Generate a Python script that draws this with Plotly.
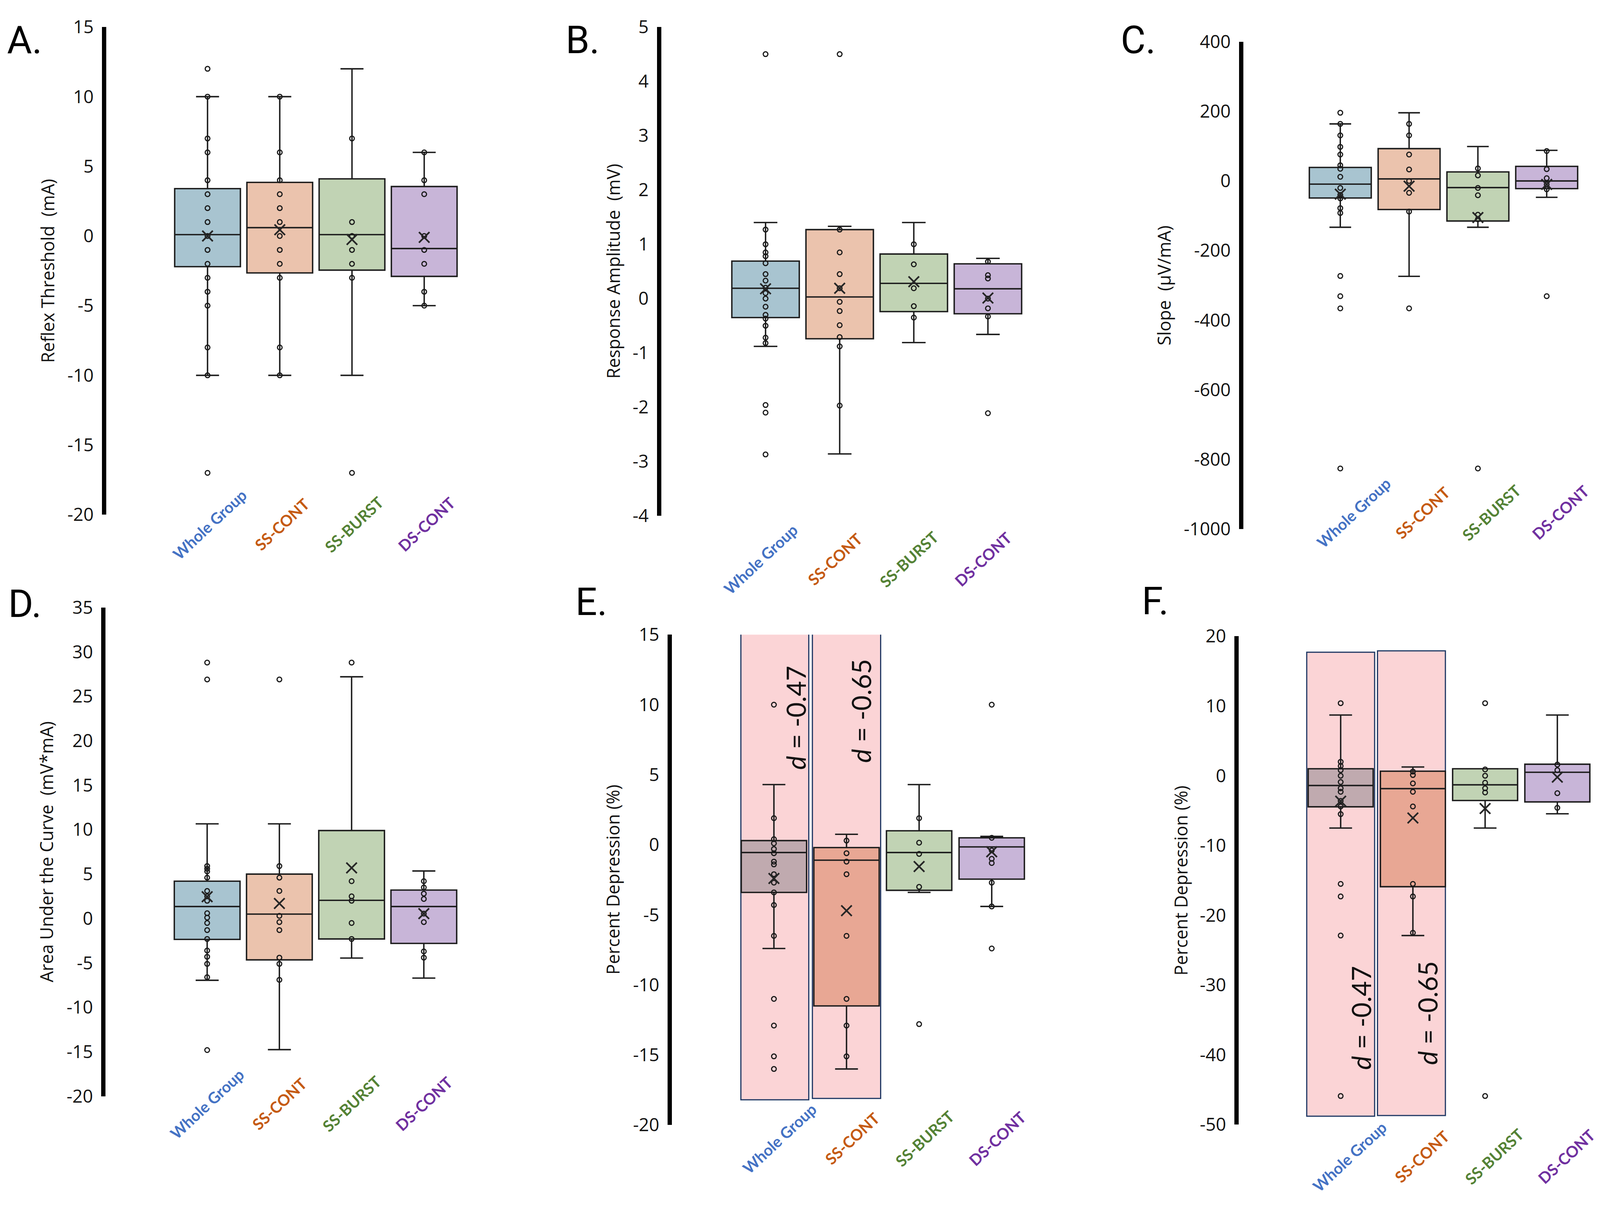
import plotly.graph_objects as go

PAGE_W, PAGE_H = 4207, 3084
BODY_MARGIN = 8
W, H = PAGE_W - 2 * BODY_MARGIN, PAGE_H - 2 * BODY_MARGIN

# mapping from reference-image pixels to page pixels of the photographed page
SX, OX = 0.9731, 0.0
SY, OY = 1.0142, -33.3

CATEGORIES = ["Whole Group", "SS-CONT", "SS-BURST", "DS-CONT"]
CATEGORY_COLORS = ["#4472C4", "#C55A11", "#548235", "#7030A0"]
BOX_FILLS = ["#A8C4D0", "#EBC3AD", "#C1D3B4", "#C8B5D8"]
BOX_FILLS_HL = ["#C0AAAF", "#E8A794", "#C1D3B4", "#C8B5D8"]

# ---------------- Panel A : Reflex Threshold ----------------
A_TITLE = "Reflex Threshold  (mA)"
A_TICKS = [15, 10, 5, 0, -5, -10, -15, -20]
A_WG = [12, 10, 7, 6, 4, 3, 2, 1, 0, -1, -2, -3, -4, -5, -8, -10, -17]
A_SSC = [10, 6, 4, 3, 2, 1, 0, -1, -2, -3, -8, -10]
A_SSB = [7, 1, 0, -1, -2, -3, -17]
A_DSC = [6, 4, 3, 0, -1, -2, -4, -5]
A_Q1 = [-2.2, -2.65, -2.45, -2.9]
A_MED = [0.1, 0.6, 0.1, -0.9]
A_Q3 = [3.4, 3.85, 4.1, 3.55]
A_LO = [-10, -10, -10, -5]
A_HI = [10, 10, 12, 6]
A_MEAN = [0.0, 0.45, -0.25, -0.1]

# ---------------- Panel B : Response Amplitude ----------------
B_TITLE = "Response Amplitude  (mV)"
B_TICKS = [5, 4, 3, 2, 1, 0, -1, -2, -3, -4]
B_WG = [4.5, 1.27, 1.0, 0.85, 0.78, 0.65, 0.45, 0.33, 0.2, 0.1, 0.0, -0.15,
        -0.3, -0.37, -0.5, -0.72, -0.82, -1.96, -2.1, -2.87]
B_SSC = [4.5, 1.27, 0.85, 0.45, 0.19, -0.06, -0.23, -0.49, -0.71, -0.88, -1.97]
B_SSB = [1.0, 0.63, 0.19, -0.14, -0.35]
B_DSC = [0.68, 0.43, 0.37, 0.0, -0.18, -0.33, -2.11]
B_Q1 = [-0.35, -0.74, -0.24, -0.28]
B_MED = [0.19, 0.03, 0.28, 0.18]
B_Q3 = [0.69, 1.27, 0.82, 0.64]
B_LO = [-0.88, -2.86, -0.81, -0.66]
B_HI = [1.4, 1.33, 1.4, 0.74]
B_MEAN = [0.18, 0.19, 0.31, 0.01]

# ---------------- Panel C : Slope ----------------
C_TITLE = "Slope  (\u00b5V/mA)"
C_TICKS = [400, 200, 0, -200, -400, -600, -800, -1000]
C_WG = [196, 164, 131, 98, 76, 45, 35, 12, -20, -40, -50, -78, -92, -273, -331, -366, -826]
C_SSC = [164, 131, 76, 33, 0, -34, -88, -366]
C_SSB = [36, 16, -20, -41, -97, -110, -826]
C_DSC = [86, 34, 8, -10, -24, -331]
C_Q1 = [-49, -82, -115, -22]
C_MED = [-9, 6, -19, 0]
C_Q3 = [39, 93, 26, 42]
C_LO = [-133, -274, -133, -47]
C_HI = [164, 196, 99, 88]
C_MEAN = [-38, -15, -105, -10]

# ---------------- Panel D : Area Under the Curve ----------------
D_TITLE = "Area Under the Curve  (mV*mA)"
D_TICKS = [35, 30, 25, 20, 15, 10, 5, 0, -5, -10, -15, -20]
D_WG = [28.8, 26.9, 5.9, 5.6, 5.3, 4.6, 3.1, 2.5, 2.0, 0.6, 0.1, -0.5, -1.3,
        -2.3, -3.6, -4.3, -5.1, -6.6, -14.8]
D_SSC = [26.9, 5.9, 4.6, 3.1, 0.3, -0.4, -1.3, -4.4, -5.1, -6.9]
D_SSB = [28.8, 4.2, 2.5, 2.0, -0.5, -2.3]
D_DSC = [4.2, 3.5, 2.8, 2.2, 0.55, -0.4, -3.7, -4.4]
D_Q1 = [-2.35, -4.65, -2.3, -2.8]
D_MED = [1.35, 0.5, 2.05, 1.35]
D_Q3 = [4.2, 5.0, 9.9, 3.2]
D_LO = [-6.95, -14.75, -4.45, -6.7]
D_HI = [10.65, 10.65, 27.2, 5.35]
D_MEAN = [2.45, 1.7, 5.7, 0.55]

# ---------------- Panel E : Percent Depression ----------------
E_TITLE = "Percent Depression (%)"
E_TICKS = [15, 10, 5, 0, -5, -10, -15, -20]
E_WG = [10.0, 1.9, 0.4, 0.1, -0.3, -0.6, -1.2, -1.4, -2.1, -2.7, -3.4, -4.3,
        -6.5, -11.0, -12.9, -15.1, -16.0]
E_SSC = [0.3, -0.6, -1.2, -2.1, -6.5, -11.0, -12.9, -15.1]
E_SSB = [1.9, 0.15, -0.65, -3.0, -12.8]
E_DSC = [10.0, 0.5, -0.4, -1.0, -1.3, -2.7, -4.4, -7.4]
E_Q1 = [-3.4, -11.5, -3.25, -2.45]
E_MED = [-0.55, -1.1, -0.55, -0.15]
E_Q3 = [0.3, -0.2, 1.0, 0.5]
E_LO = [-7.4, -16.0, -3.4, -4.4]
E_HI = [4.3, 0.75, 4.3, 0.6]
E_MEAN = [-2.4, -4.7, -1.55, -0.5]
E_EFFECT = [-0.47, -0.65]

# ---------------- Panel F : Percent Depression ----------------
F_TITLE = "Percent Depression (%)"
F_TICKS = [20, 10, 0, -10, -20, -30, -40, -50]
F_WG = [10.4, 2.0, 1.4, 0.8, 0.0, -0.9, -1.8, -2.3, -3.6, -4.4, -5.5,
        -15.5, -17.3, -22.9, -45.9]
F_SSC = [0.6, 0.1, -1.1, -2.3, -4.4, -15.5, -17.3, -22.5]
F_SSB = [10.4, 0.9, 0.0, -1.0, -1.8, -2.4, -45.9]
F_DSC = [1.6, 0.8, -2.5, -4.6]
F_Q1 = [-4.45, -15.9, -3.55, -3.75]
F_MED = [-1.4, -1.85, -1.3, 0.5]
F_Q3 = [1.0, 0.65, 1.0, 1.65]
F_LO = [-7.5, -22.9, -7.5, -5.45]
F_HI = [8.7, 1.25, 1.0, 8.7]
F_MEAN = [-3.65, -6.05, -4.7, -0.2]
F_EFFECT = [-0.47, -0.65]

# ---------------- geometry (reference-image pixels) ----------------
panels = [
    dict(letter="A.", title=A_TITLE, ticks=A_TICKS, points=[A_WG, A_SSC, A_SSB, A_DSC],
         q1=A_Q1, med=A_MED, q3=A_Q3, lo=A_LO, hi=A_HI, mean=A_MEAN, fills=BOX_FILLS,
         ax=274, c0=546, sp=190, ytop=69, ybot=1325, lab_y=1350, lab_dx=6,
         title_x=125, letter_xy=(16, None), bw=0.91),
    dict(letter="B.", title=B_TITLE, ticks=B_TICKS, points=[B_WG, B_SSC, B_SSB, B_DSC],
         q1=B_Q1, med=B_MED, q3=B_Q3, lo=B_LO, hi=B_HI, mean=B_MEAN, fills=BOX_FILLS,
         ax=1734, c0=2014, sp=195, ytop=69, ybot=1328, lab_y=1440, lab_dx=-12,
         title_x=1613, letter_xy=(1486, None), bw=0.91),
    dict(letter="C.", title=C_TITLE, ticks=C_TICKS, points=[C_WG, C_SSC, C_SSB, C_DSC],
         q1=C_Q1, med=C_MED, q3=C_Q3, lo=C_LO, hi=C_HI, mean=C_MEAN, fills=BOX_FILLS,
         ax=3265, c0=3526, sp=181, ytop=107, ybot=1362, lab_y=1320, lab_dx=36,
         title_x=3062, letter_xy=(2946, None), bw=0.9),
    dict(letter="D.", title=D_TITLE, ticks=D_TICKS, points=[D_WG, D_SSC, D_SSB, D_DSC],
         q1=D_Q1, med=D_MED, q3=D_Q3, lo=D_LO, hi=D_HI, mean=D_MEAN, fills=BOX_FILLS,
         ax=272, c0=545, sp=190, ytop=1564, ybot=2823, lab_y=2842, lab_dx=0,
         title_x=121, letter_xy=(20, 1555), bw=0.91),
    dict(letter="E.", title=E_TITLE, ticks=E_TICKS, points=[E_WG, E_SSC, E_SSB, E_DSC],
         q1=E_Q1, med=E_MED, q3=E_Q3, lo=E_LO, hi=E_HI, mean=E_MEAN, fills=BOX_FILLS_HL,
         ax=1762, c0=2036, sp=191, ytop=1634, ybot=2897, lab_y=2932, lab_dx=15,
         title_x=1612, letter_xy=(1512, 1550), bw=0.9,
         rects=[(-0.455, 0.48, -18.2, 15.1), (0.53, 1.47, -18.1, 15.15)],
         effects=E_EFFECT, eff_pos=[(0.30, 9.07), (1.20, 9.57)]),
    dict(letter="F.", title=F_TITLE, ticks=F_TICKS, points=[F_WG, F_SSC, F_SSB, F_DSC],
         q1=F_Q1, med=F_MED, q3=F_Q3, lo=F_LO, hi=F_HI, mean=F_MEAN, fills=BOX_FILLS_HL,
         ax=3253, c0=3527, sp=190, ytop=1638, ybot=2896, lab_y=2978, lab_dx=24,
         title_x=3106, letter_xy=(3002, 1548), bw=0.9,
         rects=[(-0.47, 0.47, -48.8, 17.7), (0.51, 1.45, -48.7, 17.9)],
         effects=F_EFFECT, eff_pos=[(0.28, -34.7), (1.20, -34.0)]),
]

TICK_FONT = dict(family="Open Sans", size=46, color="#111111")
TITLE_FONT = dict(family="Open Sans", size=45, color="#111111")
LETTER_FONT = dict(family="Roboto", size=98, color="black")
CAT_FONT_FAMILY = "Lato"
AXIS_LW = 11


def fxp(x):
    """reference x pixel -> figure pixel"""
    return SX * x + OX - BODY_MARGIN


def fyp(y):
    return SY * y + OY - BODY_MARGIN


def px(x):
    return fxp(x) / W


def py(y):
    return 1 - fyp(y) / H


fig = go.Figure()
annotations = []
shapes = []
layout = {}

for k, p in enumerate(panels, start=1):
    xn = "x" if k == 1 else f"x{k}"
    yn = "y" if k == 1 else f"y{k}"
    xkey = "xaxis" if k == 1 else f"xaxis{k}"
    ykey = "yaxis" if k == 1 else f"yaxis{k}"

    sp = p["sp"] * SX
    c0 = fxp(p["c0"])
    left = fxp(p["ax"]) + AXIS_LW / 2
    c3 = c0 + 3 * sp
    right = min(W - 2, c3 + 0.6 * sp)
    r0 = (left - c0) / sp
    r1 = 3 + (right - c3) / sp
    ticks = p["ticks"]
    ymin, ymax = min(ticks), max(ticks)

    layout[xkey] = dict(domain=[left / W, right / W], range=[r0, r1], anchor=yn,
                        showline=False, showgrid=False, zeroline=False,
                        showticklabels=False, ticks="", fixedrange=True)
    layout[ykey] = dict(domain=[py(p["ybot"]), py(p["ytop"])], range=[ymin, ymax],
                        anchor=xn, showline=True, linewidth=AXIS_LW, linecolor="black",
                        showgrid=False, zeroline=False, ticks="", tickmode="array",
                        tickvals=ticks, ticktext=[str(t) for t in ticks],
                        tickfont=TICK_FONT, ticklabelstandoff=12, fixedrange=True)

    # highlight rectangles
    for (x0, x1, y0, y1) in p.get("rects", []):
        shapes.append(dict(type="rect", xref=xn, yref=yn, x0=x0, x1=x1, y0=y0, y1=y1,
                           fillcolor="#FBD4D6", line=dict(color="#1F3864", width=3),
                           layer="below"))

    for i, cat in enumerate(CATEGORIES):
        fig.add_trace(go.Box(
            x=[i], q1=[p["q1"][i]], median=[p["med"][i]], q3=[p["q3"][i]],
            lowerfence=[p["lo"][i]], upperfence=[p["hi"][i]],
            width=p["bw"], whiskerwidth=0.35, fillcolor=p["fills"][i],
            line=dict(color="#1c1c1c", width=3.6), boxpoints=False,
            xaxis=xn, yaxis=yn, showlegend=False, hoverinfo="skip", name=cat))
    for i, cat in enumerate(CATEGORIES):
        pts = p["points"][i]
        fig.add_trace(go.Scatter(
            x=[i] * len(pts), y=pts, mode="markers", xaxis=xn, yaxis=yn,
            marker=dict(symbol="circle-open", size=12, color="#1a1a1a", line=dict(width=3)),
            showlegend=False, hoverinfo="skip", name=cat))
    fig.add_trace(go.Scatter(
        x=list(range(len(CATEGORIES))), y=p["mean"], mode="markers", xaxis=xn, yaxis=yn,
        marker=dict(symbol="x-thin", size=27, color="#262626",
                    line=dict(width=4.2, color="#262626")),
        showlegend=False, hoverinfo="skip", name="mean"))

    # category labels
    for i, cat in enumerate(CATEGORIES):
        annotations.append(dict(
            text=f"<b>{cat}</b>", x=i + p["lab_dx"] / p["sp"], xref=xn,
            y=py(p["lab_y"]), yref="paper", showarrow=False, textangle=-43,
            xanchor="center", yanchor="middle",
            font=dict(family=CAT_FONT_FAMILY, size=40, color=CATEGORY_COLORS[i])))

    # y-axis title
    annotations.append(dict(
        text=p["title"], x=px(p["title_x"]), xref="paper",
        y=py((p["ytop"] + p["ybot"]) / 2), yref="paper", textangle=-90,
        showarrow=False, xanchor="center", yanchor="middle", font=TITLE_FONT))

    # panel letter (top-row letters are pinned to the top edge)
    lx, ly = p["letter_xy"]
    if ly is None:
        annotations.append(dict(
            text=p["letter"], x=px(lx), xref="paper", y=1 - 2 / H, yref="paper",
            showarrow=False, xanchor="left", yanchor="top", font=LETTER_FONT))
    else:
        annotations.append(dict(
            text=p["letter"], x=px(lx), xref="paper", y=py(ly), yref="paper",
            showarrow=False, xanchor="left", yanchor="middle", font=LETTER_FONT))

    # effect-size labels
    for eff, (ex, ey) in zip(p.get("effects", []), p.get("eff_pos", [])):
        annotations.append(dict(
            text=f"<i>d</i> = {eff:.2f}", x=ex, xref=xn, y=ey, yref=yn,
            showarrow=False, textangle=-90, xanchor="center", yanchor="middle",
            font=dict(family="Lato", size=67, color="#111111")))

fig.update_layout(
    width=W, height=H, margin=dict(l=0, r=0, t=0, b=0),
    paper_bgcolor="white", plot_bgcolor="white",
    showlegend=False, annotations=annotations, shapes=shapes, boxmode="overlay",
    **layout)

fig.write_html("out.html")
